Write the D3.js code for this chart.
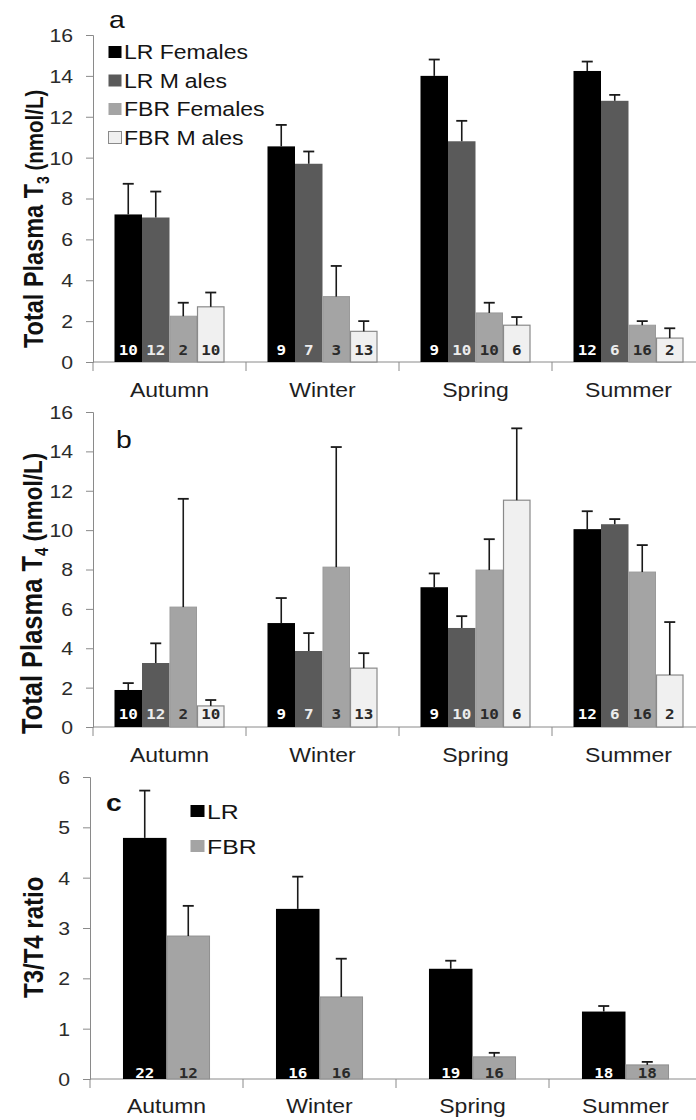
<!DOCTYPE html>
<html>
<head>
<meta charset="utf-8">
<script src="https://cdn.jsdelivr.net/npm/d3@7"></script>
<style>
  html, body { margin: 0; padding: 0; background: #fff; }
  svg { display: block; font-family: "Liberation Sans", Arial, sans-serif; }
</style>
</head>
<body>
<svg id="chart" width="696" height="1120"></svg>
<script>
// ---- data ----
const seasons = ["Autumn", "Winter", "Spring", "Summer"];
const groups4 = ["LR Females", "LR Males", "FBR Females", "FBR Males"];
const groups2 = ["LR", "FBR"];

// sample sizes (same animals for T3 and T4)
const nLRF  = [10, 9, 9, 12];
const nLRM  = [12, 7, 10, 6];
const nFBRF = [2, 3, 10, 16];
const nFBRM = [10, 13, 6, 2];

// Total plasma T3 (nmol/L): mean and SE
const t3LRF    = [7.22, 10.55, 14.0, 14.24];
const t3LRFse  = [1.5, 1.05, 0.8, 0.46];
const t3LRM    = [7.07, 9.7, 10.8, 12.78];
const t3LRMse  = [1.27, 0.6, 1.0, 0.29];
const t3FBRF   = [2.24, 3.2, 2.4, 1.8];
const t3FBRFse = [0.66, 1.5, 0.5, 0.2];
const t3FBRM   = [2.7, 1.5, 1.8, 1.17];
const t3FBRMse = [0.7, 0.5, 0.4, 0.48];

// Total plasma T4 (nmol/L): mean and SE
const t4LRF    = [1.88, 5.28, 7.1, 10.05];
const t4LRFse  = [0.35, 1.27, 0.7, 0.91];
const t4LRM    = [3.25, 3.86, 5.03, 10.3];
const t4LRMse  = [1.0, 0.91, 0.6, 0.26];
const t4FBRF   = [6.09, 8.12, 7.97, 7.87];
const t4FBRFse = [5.5, 6.1, 1.57, 1.37];
const t4FBRM   = [1.07, 2.99, 11.52, 2.64];
const t4FBRMse = [0.3, 0.76, 3.65, 2.69];

// T3/T4 ratio
const ratioLR    = [4.79, 3.38, 2.19, 1.34];
const ratioLRse  = [0.94, 0.64, 0.16, 0.11];
const ratioFBR   = [2.84, 1.63, 0.44, 0.28];
const ratioFBRse = [0.6, 0.76, 0.08, 0.06];
const nLR  = [22, 16, 19, 18];
const nFBR = [12, 16, 16, 18];

const ticks16 = [0, 2, 4, 6, 8, 10, 12, 14, 16];
const ticks6  = [0, 1, 2, 3, 4, 5, 6];

// ---- styling ----
const SX = 1.18;  // horizontal text stretch
const fill4 = ["#000000", "#5a5a5a", "#a4a4a4", "#f0f0f0"];
const stroke4 = ["none", "none", "#9a9a9a", "#8a8a8a"];
const countColor4 = ["#ffffff", "#ececec", "#2a2a2a", "#2a2a2a"];
const fill2 = ["#000000", "#a4a4a4"];
const stroke2 = ["none", "#8f8f8f"];
const countColor2 = ["#ffffff", "#2a2a2a"];

const svg = d3.select("#chart");

function buildRows(series, errs, counts) {
  return seasons.map((s, i) => ({
    season: s,
    vals: series.map((arr, k) => ({ k, v: arr[i], e: errs[k][i], n: counts[k][i] }))
  }));
}

function drawPanel(cfg) {
  const g = svg.append("g");
  const x = d3.scaleBand().domain(seasons).range(cfg.xRange)
    .paddingInner(cfg.pad).paddingOuter(cfg.pad / 2);
  const xi = d3.scaleBand().domain(d3.range(cfg.nSeries)).range([0, x.bandwidth()]);
  const y = d3.scaleLinear().domain(cfg.yDomain).range(cfg.yRange);
  const x0 = cfg.xRange[0];
  const yBase = y(0);

  // y axis
  const ya = g.append("g").attr("transform", `translate(${x0},0)`)
    .call(d3.axisLeft(y).tickValues(cfg.ticks).tickSize(7).tickFormat(d3.format("d")));
  ya.select(".domain").attr("stroke", "#8a8a8a");
  ya.selectAll(".tick line").attr("stroke", "#8a8a8a");
  ya.selectAll(".tick text")
    .attr("x", -20 / SX).attr("dy", "0.36em")
    .attr("transform", `scale(${SX},1)`)
    .attr("font-size", 18).attr("fill", "#2b2b2b")
    .attr("font-family", "Liberation Sans, Arial, sans-serif");

  // x axis: category labels
  const xa = g.append("g").attr("transform", `translate(0,${yBase})`)
    .call(d3.axisBottom(x).tickSize(0));
  xa.select(".domain").remove();
  xa.selectAll(".tick text")
    .attr("y", cfg.catDy).attr("dy", 0)
    .attr("transform", `scale(${SX},1)`)
    .attr("font-size", 19.5).attr("fill", "#1e1e1e")
    .attr("font-family", "Liberation Sans, Arial, sans-serif");
  // x axis baseline and boundary ticks
  g.append("line")
    .attr("x1", x0).attr("x2", cfg.xRange[1])
    .attr("y1", yBase).attr("y2", yBase)
    .attr("stroke", "#8a8a8a");
  g.selectAll("line.bnd").data(seasons).join("line")
    .attr("class", "bnd")
    .attr("x1", d => x(d) - x.step() * x.paddingOuter())
    .attr("x2", d => x(d) - x.step() * x.paddingOuter())
    .attr("y1", yBase).attr("y2", yBase + 9)
    .attr("stroke", "#8a8a8a");

  // bars
  const rows = buildRows(cfg.series, cfg.errs, cfg.counts);
  const grp = g.selectAll("g.season").data(rows).join("g")
    .attr("class", "season")
    .attr("transform", d => `translate(${x(d.season)},0)`);

  grp.selectAll("rect").data(d => d.vals).join("rect")
    .attr("x", d => xi(d.k) + (cfg.strokeW[d.k] ? 0.5 : 0))
    .attr("width", d => xi.bandwidth() - (cfg.strokeW[d.k] ? 1 : 0))
    .attr("y", d => y(d.v))
    .attr("height", d => yBase - y(d.v))
    .attr("fill", d => cfg.fills[d.k])
    .attr("stroke", d => cfg.strokes[d.k])
    .attr("stroke-width", d => cfg.strokeW[d.k]);

  // error bars (upper only)
  const eb = grp.selectAll("g.err").data(d => d.vals).join("g").attr("class", "err");
  eb.append("line")
    .attr("x1", d => xi(d.k) + xi.bandwidth() / 2)
    .attr("x2", d => xi(d.k) + xi.bandwidth() / 2)
    .attr("y1", d => y(d.v)).attr("y2", d => y(d.v + d.e))
    .attr("stroke", "#1a1a1a").attr("stroke-width", 1.6);
  eb.append("line")
    .attr("x1", d => xi(d.k) + xi.bandwidth() / 2 - 5.5)
    .attr("x2", d => xi(d.k) + xi.bandwidth() / 2 + 5.5)
    .attr("y1", d => y(d.v + d.e)).attr("y2", d => y(d.v + d.e))
    .attr("stroke", "#1a1a1a").attr("stroke-width", 1.8);

  // sample sizes at the foot of each bar
  grp.selectAll("text.n").data(d => d.vals).join("text")
    .attr("class", "n")
    .attr("transform", d => `translate(${xi(d.k) + xi.bandwidth() / 2},${yBase - cfg.nLift}) scale(${SX},1)`)
    .attr("text-anchor", "middle")
    .attr("font-family", "DejaVu Sans Mono, monospace")
    .attr("font-weight", "bold")
    .attr("font-size", 13.5)
    .attr("fill", d => cfg.countColors[d.k])
    .text(d => d.n);

  // y title (rotated)
  const t = g.append("text")
    .attr("transform", `translate(${cfg.titleX},${cfg.titleY}) scale(${SX},1) rotate(-90)`)
    .attr("font-family", "Liberation Sans, Arial, sans-serif")
    .attr("font-weight", "bold")
    .attr("fill", "#111");
  cfg.title.forEach(p => {
    const ts = t.append("tspan").attr("font-size", p.size).text(p.text);
    if (p.dy) ts.attr("dy", p.dy);
  });

  // panel letter
  g.append("text")
    .attr("transform", `translate(${cfg.letterPos[0]},${cfg.letterPos[1]}) scale(${SX},1)`)
    .attr("font-size", 24)
    .attr("font-weight", cfg.letterBold ? "bold" : "normal")
    .attr("fill", "#111")
    .text(cfg.letter);

  // legend
  const lg = g.selectAll("g.leg").data(cfg.legend).join("g")
    .attr("class", "leg")
    .attr("transform", (d, i) => `translate(${cfg.legendPos[0]},${cfg.legendPos[1] + i * cfg.legendStep})`);
  lg.append("rect")
    .attr("x", 0.5).attr("y", -cfg.swatch[1] / 2)
    .attr("width", cfg.swatch[0]).attr("height", cfg.swatch[1])
    .attr("fill", (d, i) => cfg.fills[i])
    .attr("stroke", (d, i) => i === cfg.legend.length - 1 && cfg.nSeries === 4 ? "#8a8a8a" : "none");
  lg.append("text")
    .attr("transform", `translate(${cfg.swatch[0] + 3},0) scale(${SX},1)`)
    .attr("dy", "0.36em")
    .attr("font-size", cfg.legendSize)
    .attr("fill", "#151515")
    .each(function (d) {
      const el = d3.select(this);
      const m = d.indexOf("Males");
      if (m >= 0 && d.indexOf("Females") < 0) {
        el.append("tspan").text(d.slice(0, m + 1));
        el.append("tspan").attr("dx", 5).text(d.slice(m + 1));
      } else {
        el.text(d);
      }
    });
}

// panel a: T3
drawPanel({
  xRange: [93, 705], pad: 0.281, nSeries: 4,
  yDomain: [0, 16], yRange: [362, 35], ticks: ticks16,
  series: [t3LRF, t3LRM, t3FBRF, t3FBRM],
  errs: [t3LRFse, t3LRMse, t3FBRFse, t3FBRMse],
  counts: [nLRF, nLRM, nFBRF, nFBRM],
  fills: fill4, strokes: stroke4, strokeW: [0, 0, 1, 1.2], countColors: countColor4,
  catDy: 35, nLift: 7,
  titleX: 43, titleY: 348,
  title: [
    { text: "Total Plasma T", size: 23.5 },
    { text: "3", size: 14, dy: 5 },
    { text: " (nmol/L)", size: 20.5, dy: -5 }
  ],
  letter: "a", letterPos: [109, 28], letterBold: false,
  legend: groups4, legendPos: [108, 52], legendStep: 28.5, swatch: [13, 12], legendSize: 19.5
});

// panel b: T4
drawPanel({
  xRange: [93, 705], pad: 0.281, nSeries: 4,
  yDomain: [0, 16], yRange: [727, 412], ticks: ticks16,
  series: [t4LRF, t4LRM, t4FBRF, t4FBRM],
  errs: [t4LRFse, t4LRMse, t4FBRFse, t4FBRMse],
  counts: [nLRF, nLRM, nFBRF, nFBRM],
  fills: fill4, strokes: stroke4, strokeW: [0, 0, 1, 1.2], countColors: countColor4,
  catDy: 35, nLift: 8,
  titleX: 42, titleY: 734,
  title: [
    { text: "Total Plasma T", size: 25.5 },
    { text: "4", size: 15, dy: 5 },
    { text: " (nmol/L)", size: 22.5, dy: -5 }
  ],
  letter: "b", letterPos: [116, 448], letterBold: false,
  legend: [], legendPos: [0, 0], legendStep: 0, swatch: [13, 12], legendSize: 19.5
});

// panel c: T3/T4 ratio
drawPanel({
  xRange: [90, 702], pad: 0.431, nSeries: 2,
  yDomain: [0, 6], yRange: [1079, 777], ticks: ticks6,
  series: [ratioLR, ratioFBR],
  errs: [ratioLRse, ratioFBRse],
  counts: [nLR, nFBR],
  fills: fill2, strokes: stroke2, strokeW: [0, 1], countColors: countColor2,
  catDy: 34, nLift: 1.5,
  titleX: 43, titleY: 998,
  title: [{ text: "T3/T4 ratio", size: 24 }],
  letter: "c", letterPos: [106, 811], letterBold: true,
  legend: groups2, legendPos: [190, 811], legendStep: 35, swatch: [14, 12], legendSize: 21
});
</script>
</body>
</html>
